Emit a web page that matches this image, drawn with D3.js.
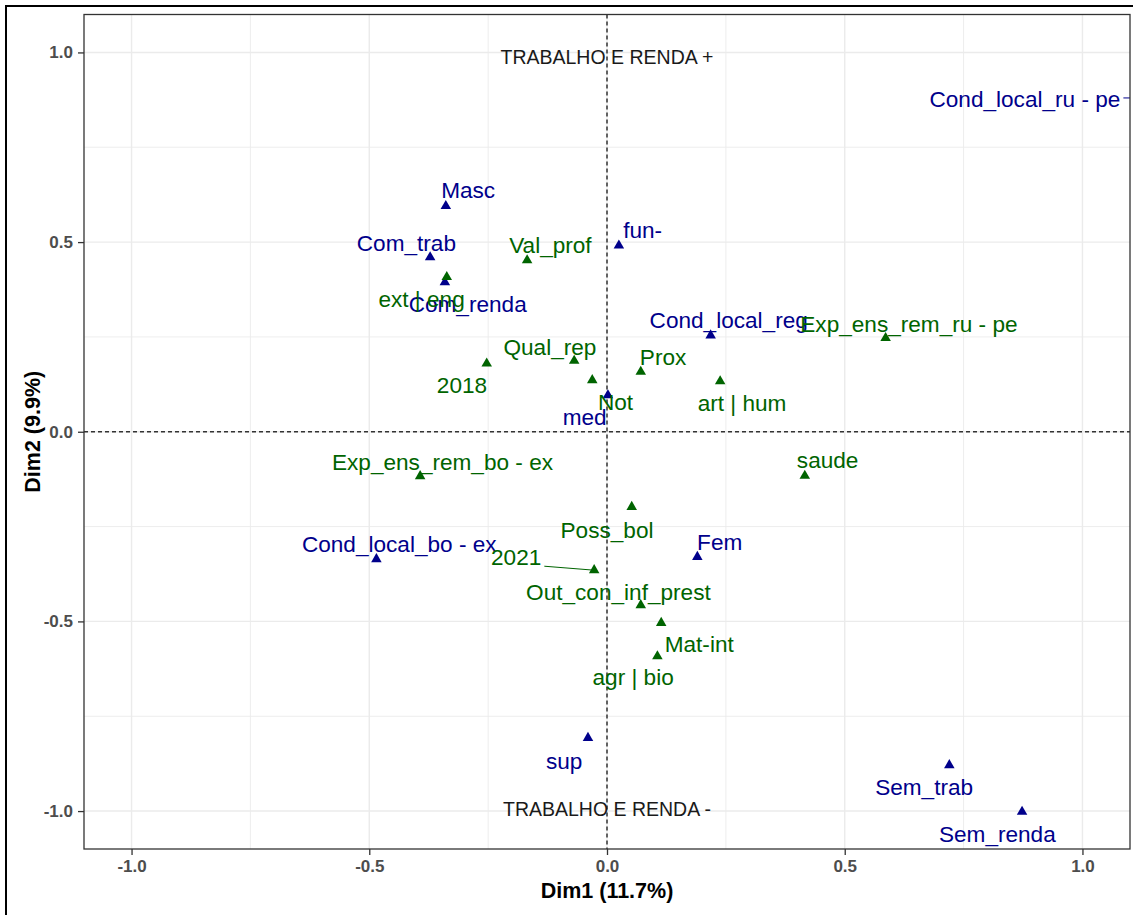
<!DOCTYPE html>
<html>
<head>
<meta charset="utf-8">
<script src="https://cdn.jsdelivr.net/npm/d3@7"></script>
<style>
  body { margin: 0; background: #fff; }
  svg { display: block; }
</style>
</head>
<body>
<div id="chart"></div>
<script>
// categories and their coordinates on the first two dimensions
const names = ["Masc", "Com_trab", "Com_renda", "fun-", "Cond_local_reg", "med",
    "Cond_local_ru - pe", "Cond_local_bo - ex", "Fem", "sup", "Sem_trab", "Sem_renda",
    "ext | eng", "Val_prof", "Exp_ens_rem_ru - pe", "Qual_rep", "2018", "Not", "Prox",
    "art | hum", "saude", "Exp_ens_rem_bo - ex", "Poss_bol", "2021", "Out_con_inf_prest",
    "Mat-int", "agr | bio"];
const groups = ["a","a","a","a","a","a","a","a","a","a","a","a",
    "b","b","b","b","b","b","b","b","b","b","b","b","b","b","b"];
const dim1 = [-0.339, -0.372, -0.341, 0.025, 0.218, 0.002, 1.16, -0.485, 0.190, -0.040, 0.720, 0.873,
    -0.337, -0.168, 0.586, -0.069, -0.253, -0.031, 0.071, 0.238, 0.416, -0.393, 0.052, -0.027, 0.071, 0.114, 0.106];
const dim2 = [0.595, 0.460, 0.394, 0.491, 0.254, 0.096, 0.880, -0.336, -0.330, -0.807, -0.879, -1.002,
    0.408, 0.452, 0.247, 0.187, 0.180, 0.136, 0.158, 0.133, -0.116, -0.117, -0.198, -0.365, -0.457, -0.504, -0.592];
// where the (repelled) labels ended up, in the same units
const labDim1 = [-0.292, -0.422, -0.293, 0.075, 0.256, -0.047, 0.879, -0.437, 0.237, -0.090, 0.667, 0.821,
    -0.390, -0.119, 0.635, -0.120, -0.305, 0.018, 0.118, 0.284, 0.464, -0.346, 0.000, -0.191, 0.024, 0.194, 0.055];
const labDim2 = [0.636, 0.497, 0.336, 0.531, 0.294, 0.039, 0.878, -0.296, -0.290, -0.868, -0.938, -1.061,
    0.349, 0.491, 0.285, 0.223, 0.123, 0.079, 0.197, 0.075, -0.075, -0.080, -0.258, -0.331, -0.422, -0.560, -0.648];

const notes = ["TRABALHO E RENDA +", "TRABALHO E RENDA -"];
const noteDim1 = [0, 0];
const noteDim2 = [0.987, -0.994];

const ticks = [-1, -0.5, 0, 0.5, 1];
const minorTicks = [-0.75, -0.25, 0.25, 0.75];
const xTitle = "Dim1 (11.7%)";
const yTitle = "Dim2 (9.9%)";

const W = 1133, H = 915;
const panel = {left: 84, right: 1130, top: 14.5, bottom: 849};
const colors = {a: "#00008B", b: "#006400"};
const font = "'Liberation Sans', Arial, sans-serif";

const svg = d3.select("#chart")
    .append("svg")
    .attr("width", W)
    .attr("height", H);

svg.append("rect")
    .attr("width", W).attr("height", H)
    .attr("fill", "#fff");

// frame around the whole picture
svg.append("rect")
    .attr("x", 6).attr("y", 6)
    .attr("width", W + 20).attr("height", H + 20)
    .attr("fill", "none")
    .attr("stroke", "#000")
    .attr("stroke-width", 2);

const x = d3.scaleLinear().domain([-1.1, 1.1]).range([panel.left, panel.right]);
const y = d3.scaleLinear().domain([-1.1, 1.1]).range([panel.bottom, panel.top]);

svg.append("clipPath").attr("id", "clip")
    .append("rect")
    .attr("x", panel.left).attr("y", panel.top)
    .attr("width", panel.right - panel.left)
    .attr("height", panel.bottom - panel.top);

// grid
const grid = svg.append("g");
grid.selectAll(".minx").data(minorTicks).enter().append("line")
    .attr("x1", d => x(d)).attr("x2", d => x(d))
    .attr("y1", panel.top).attr("y2", panel.bottom)
    .attr("stroke", "#EBEBEB").attr("stroke-width", 0.9);
grid.selectAll(".miny").data(minorTicks).enter().append("line")
    .attr("y1", d => y(d)).attr("y2", d => y(d))
    .attr("x1", panel.left).attr("x2", panel.right)
    .attr("stroke", "#EBEBEB").attr("stroke-width", 0.9);
grid.selectAll(".majx").data(ticks).enter().append("line")
    .attr("x1", d => x(d)).attr("x2", d => x(d))
    .attr("y1", panel.top).attr("y2", panel.bottom)
    .attr("stroke", "#EBEBEB").attr("stroke-width", 1.4);
grid.selectAll(".majy").data(ticks).enter().append("line")
    .attr("y1", d => y(d)).attr("y2", d => y(d))
    .attr("x1", panel.left).attr("x2", panel.right)
    .attr("stroke", "#EBEBEB").attr("stroke-width", 1.4);

// reference lines at zero
svg.append("line")
    .attr("x1", x(0)).attr("x2", x(0))
    .attr("y1", panel.top).attr("y2", panel.bottom)
    .attr("stroke", "#333").attr("stroke-width", 1.5)
    .attr("stroke-dasharray", "4,3");
svg.append("line")
    .attr("y1", y(0)).attr("y2", y(0))
    .attr("x1", panel.left).attr("x2", panel.right)
    .attr("stroke", "#333").attr("stroke-width", 1.5)
    .attr("stroke-dasharray", "4,3");

const pts = names.map((n, i) => ({
    name: n, group: groups[i],
    x: dim1[i], y: dim2[i],
    lx: labDim1[i], ly: labDim2[i]
}));

const plot = svg.append("g").attr("clip-path", "url(#clip)");

// label texts first so we can measure them for the leader segments
const labels = svg.append("g");
labels.selectAll("text")
    .data(pts)
    .enter()
    .append("text")
    .attr("x", d => x(d.lx))
    .attr("y", d => y(d.ly))
    .attr("dy", "0.35em")
    .attr("text-anchor", "middle")
    .style("font-family", font)
    .style("font-size", "22.6px")
    .attr("fill", d => colors[d.group])
    .text(d => d.name)
    .each(function(d) { d.box = this.getBBox(); });

// segments from label box to point when they are far apart
pts.forEach(d => {
    const px = x(d.x), py = y(d.y), b = d.box;
    const cx = Math.max(b.x, Math.min(px, b.x + b.width));
    const cy = Math.max(b.y + 4, Math.min(py, b.y + b.height - 4));
    const dist = Math.hypot(px - cx, py - cy);
    if (dist > 20) {
        plot.append("line")
            .attr("x1", cx + 3).attr("y1", cy)
            .attr("x2", px).attr("y2", py)
            .attr("stroke", colors[d.group])
            .attr("stroke-width", 1);
    }
});

plot.selectAll("path.pt")
    .data(pts)
    .enter()
    .append("path")
    .attr("class", "pt")
    .attr("transform", d => `translate(${x(d.x)}, ${y(d.y)})`)
    .attr("d", d3.symbol(d3.symbolTriangle, 48))
    .attr("fill", d => colors[d.group]);

labels.raise();

// annotations
svg.selectAll("text.note")
    .data(notes)
    .enter()
    .append("text")
    .attr("class", "note")
    .attr("x", (d, i) => x(noteDim1[i]))
    .attr("y", (d, i) => y(noteDim2[i]))
    .attr("dy", "0.35em")
    .attr("text-anchor", "middle")
    .style("font-family", font)
    .style("font-size", "19.5px")
    .attr("fill", "#1a1a1a")
    .text(d => d);

// panel border
svg.append("rect")
    .attr("x", panel.left).attr("y", panel.top)
    .attr("width", panel.right - panel.left)
    .attr("height", panel.bottom - panel.top)
    .attr("fill", "none")
    .attr("stroke", "#333")
    .attr("stroke-width", 1.3);

// axes
const fmt = d => d.toFixed(1);
const xAxis = svg.append("g")
    .attr("transform", `translate(0, ${panel.bottom})`)
    .call(d3.axisBottom(x).tickValues(ticks).tickFormat(fmt).tickSize(6).tickPadding(5));
const yAxis = svg.append("g")
    .attr("transform", `translate(${panel.left}, 0)`)
    .call(d3.axisLeft(y).tickValues(ticks).tickFormat(fmt).tickSize(6).tickPadding(5));
[xAxis, yAxis].forEach(a => {
    a.select(".domain").remove();
    a.selectAll(".tick line").attr("stroke", "#333").attr("stroke-width", 1.3);
    a.selectAll(".tick text")
        .style("font-family", font)
        .style("font-size", "17px")
        .style("font-weight", "bold")
        .attr("fill", "#4D4D4D");
});

svg.append("text")
    .attr("x", (panel.left + panel.right) / 2)
    .attr("y", 898)
    .attr("text-anchor", "middle")
    .style("font-family", font)
    .style("font-size", "21.5px")
    .style("font-weight", "bold")
    .text(xTitle);

svg.append("text")
    .attr("transform", `translate(40, ${(panel.top + panel.bottom) / 2}) rotate(-90)`)
    .attr("text-anchor", "middle")
    .style("font-family", font)
    .style("font-size", "21.5px")
    .style("font-weight", "bold")
    .text(yTitle);
</script>
</body>
</html>
